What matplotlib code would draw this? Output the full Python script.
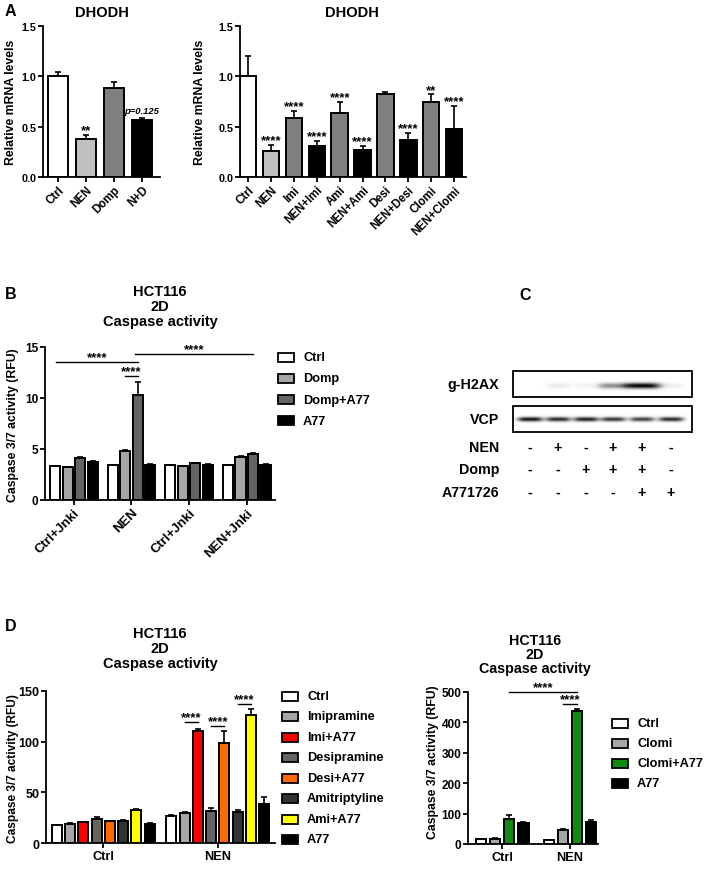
import numpy as np
import matplotlib
matplotlib.use('Agg')
import matplotlib.pyplot as plt
from matplotlib.patches import Rectangle

plt.rcParams['font.family'] = ['Liberation Sans', 'DejaVu Sans']
plt.rcParams['font.weight'] = 'bold'
plt.rcParams['axes.labelweight'] = 'bold'

# ---- data ----
# A left
a1_labels = ['Ctrl', 'NEN', 'Domp', 'N+D']
a1_vals = [1.0, 0.38, 0.88, 0.57]
a1_err = [0.04, 0.04, 0.06, 0.015]
a1_stars = ['', '**', '', '']
# A right
a2_labels = ['Ctrl', 'NEN', 'Imi', 'NEN+Imi', 'Ami', 'NEN+Ami', 'Desi', 'NEN+Desi', 'Clomi', 'NEN+Clomi']
a2_vals = [1.0, 0.26, 0.59, 0.31, 0.64, 0.27, 0.82, 0.37, 0.75, 0.48]
a2_err = [0.2, 0.06, 0.07, 0.045, 0.11, 0.04, 0.02, 0.07, 0.07, 0.23]
a2_stars = ['', '****', '****', '****', '****', '****', '', '****', '**', '****']

# B
b_groups = ['Ctrl+Jnki', 'NEN', 'Ctrl+Jnki', 'NEN+Jnki']
b_series = ['Ctrl', 'Domp', 'Domp+A77', 'A77']
b_vals = [[3.3, 3.4, 3.4, 3.4],
          [3.2, 4.8, 3.3, 4.2],
          [4.05, 10.3, 3.6, 4.45],
          [3.75, 3.45, 3.45, 3.45]]
b_err = [[0.05, 0.05, 0.03, 0.03],
         [0.03, 0.08, 0.03, 0.1],
         [0.15, 1.3, 0.05, 0.1],
         [0.08, 0.03, 0.03, 0.03]]

# C
c_nen = ['-', '+', '-', '+', '+', '-']
c_domp = ['-', '-', '+', '+', '+', '-']
c_a77 = ['-', '-', '-', '-', '+', '+']
h2ax_int = [0.0, 0.08, 0.05, 0.45, 1.0, 0.07]
vcp_int = [0.95, 0.85, 0.9, 0.8, 0.75, 0.85]

# D left
d1_groups = ['Ctrl', 'NEN']
d1_series = ['Ctrl', 'Imipramine', 'Imi+A77', 'Desipramine', 'Desi+A77', 'Amitriptyline', 'Ami+A77', 'A77']
d1_vals = [[17.5, 27], [19, 30], [20.5, 110.5], [23.5, 31.5], [21.5, 98.5], [22, 30.5], [33, 126], [19, 39]]
d1_err = [[0.5, 0.5], [0.5, 1], [0.5, 2], [2.5, 3], [0.5, 12], [0.8, 2.5], [1, 6], [0.5, 6.5]]

# D right
d2_groups = ['Ctrl', 'NEN']
d2_series = ['Ctrl', 'Clomi', 'Clomi+A77', 'A77']
d2_vals = [[16, 13], [18, 45], [82, 438], [70, 74]]
d2_err = [[1, 1], [1, 3], [12, 6], [3, 4]]

W, H = 709, 870
fig = plt.figure(figsize=(W / 100, H / 100), dpi=100)


def ax_px(x0, y0, x1, y1):
    return fig.add_axes([x0 / W, 1 - y1 / H, (x1 - x0) / W, (y1 - y0) / H])


def txt(x, y, s, **kw):
    fig.text(x / W, 1 - y / H, s, **kw)


def style(ax, fs):
    for s in ['top', 'right']:
        ax.spines[s].set_visible(False)
    for s in ['left', 'bottom']:
        ax.spines[s].set_linewidth(1.3)
    ax.tick_params(direction='out', length=3.5, width=1.3, labelsize=fs, pad=1.2)


def bars(ax, xs, vals, err, colors, width):
    ax.bar(xs, vals, width, color=colors, edgecolor='k', linewidth=1.4, zorder=3)
    ax.errorbar(xs, vals, yerr=[np.zeros(len(vals)), err], fmt='none', ecolor='k',
                elinewidth=1.2, capsize=2.5, capthick=1.2, zorder=2)


def stars(ax, x, y, s, fs=9.5, dy=1.2):
    ax.annotate(s, (x, y), xytext=(0, dy), textcoords='offset points',
                ha='center', va='baseline', fontsize=fs, annotation_clip=False)


def sig(ax, x0, x1, y, fs=9.5):
    ax.plot([x0, x1], [y, y], color='k', lw=1.0, clip_on=False)
    stars(ax, (x0 + x1) / 2, y, '****', fs, dy=1.2)


def legend_px(x, y0, dy, labels, colors, fs):
    for i, (lab, c) in enumerate(zip(labels, colors)):
        yc = y0 + i * dy
        fig.patches.append(Rectangle((x / W, 1 - (yc + 4.5) / H), 16 / W, 9 / H,
                                     transform=fig.transFigure, facecolor=c,
                                     edgecolor='k', lw=1.3))
        txt(x + 25, yc, lab, ha='left', va='center', fontsize=fs)


# ---- A left ----
ax = ax_px(43, 27, 160, 178)
a1_colors = ['white', '#c0c0c0', '#7f7f7f', 'black']
x = np.arange(len(a1_vals))
bars(ax, x, a1_vals, a1_err, a1_colors, 0.72)
for i, s in enumerate(a1_stars):
    if s:
        stars(ax, i, a1_vals[i] + a1_err[i], s)
ax.text(3, a1_vals[3] + a1_err[3] + 0.03, 'p=0.125', ha='center', va='bottom',
        fontsize=6.8, style='italic')
ax.set_xlim(-0.55, 3.65)
ax.set_ylim(0, 1.5)
ax.set_yticks([0, 0.5, 1.0, 1.5])
ax.set_yticklabels(['0.0', '0.5', '1.0', '1.5'])
ax.set_xticks(x)
ax.set_xticklabels(a1_labels, rotation=45, ha='right', rotation_mode='anchor')
style(ax, 7.8)
ax.tick_params(axis='x', labelsize=8.3)
txt(102, 13, 'DHODH', ha='center', va='center', fontsize=10.5)
txt(11, 102, 'Relative mRNA levels', rotation=90, ha='center', va='center', fontsize=8.8)
txt(10, 12, 'A', ha='center', va='center', fontsize=11.5)

# ---- A right ----
ax = ax_px(240, 27, 466, 178)
a2_colors = ['white', '#c0c0c0'] + ['#7f7f7f', 'black'] * 4
x = np.arange(len(a2_vals))
bars(ax, x, a2_vals, a2_err, a2_colors, 0.72)
for i, s in enumerate(a2_stars):
    if s:
        stars(ax, i, a2_vals[i] + a2_err[i], s)
ax.set_xlim(-0.36, 9.52)
ax.set_ylim(0, 1.5)
ax.set_yticks([0, 0.5, 1.0, 1.5])
ax.set_yticklabels(['0.0', '0.5', '1.0', '1.5'])
ax.set_xticks(x)
ax.set_xticklabels(a2_labels, rotation=45, ha='right', rotation_mode='anchor')
style(ax, 7.8)
ax.tick_params(axis='x', labelsize=8.3)
txt(352, 13, 'DHODH', ha='center', va='center', fontsize=10.5)
txt(200, 102, 'Relative mRNA levels', rotation=90, ha='center', va='center', fontsize=8.8)

# ---- B ----
ax = ax_px(45, 348, 275, 500.7)
b_colors = ['white', '#a6a6a6', '#646464', 'black']
gx = np.arange(len(b_groups))
for j in range(len(b_series)):
    bars(ax, gx + (j - 1.5) * 0.217, b_vals[j], b_err[j], b_colors[j], 0.175)
sig(ax, -0.31, 1.11, 13.5)
sig(ax, 1.06, 3.1, 14.3)
sig(ax, 0.896, 1.108, 12.15)
ax.set_xlim(-0.5, 3.49)
ax.set_ylim(0, 15)
ax.set_yticks([0, 5, 10, 15])
ax.set_xticks(gx)
ax.set_xticklabels(b_groups, rotation=45, ha='right', rotation_mode='anchor')
style(ax, 8.5)
ax.tick_params(axis='x', labelsize=9.5)
txt(160, 307, 'HCT116\n2D\nCaspase activity', ha='center', va='center', fontsize=10.5,
    linespacing=1.12)
txt(13, 425, 'Caspase 3/7 activity (RFU)', rotation=90, ha='center', va='center', fontsize=8.8)
txt(11, 295, 'B', ha='center', va='center', fontsize=11.5)
legend_px(278, 358, 21.3, b_series, b_colors, 9.2)

# ---- C ----
ax = ax_px(420, 280, 709, 505)
ax.axis('off')
lane_x = [530, 558, 586, 613, 642, 671]
h2ax_w = [24, 24, 24, 30, 36, 24]


def blot(y0, y1, yc, ints, widths, thick):
    xs = np.arange(513, 692, 0.5)
    ys = np.arange(y0, y1, 0.5)
    X, Y = np.meshgrid(xs, ys)
    img = np.zeros_like(X)
    for cx, it, w in zip(lane_x, ints, widths):
        img += it * np.exp(-((X - cx) / (w / 2)) ** 4) * np.exp(-((Y - yc) / thick) ** 2)
    img = np.clip(img, 0, 1)
    ax.imshow(img, extent=(513, 692, y1, y0), cmap='gray_r', vmin=0, vmax=1,
              aspect='auto', interpolation='bilinear')
    ax.add_patch(Rectangle((513, y0), 179, y1 - y0, fill=False, edgecolor='k', lw=1.3))


blot(372, 398, 386.5, h2ax_int, h2ax_w, 2.8)
blot(407, 433, 420, vcp_int, [25] * 6, 2.2)
ax.set_xlim(420, 709)
ax.set_ylim(505, 280)
for lab, yy in [('g-H2AX', 385), ('VCP', 420), ('NEN', 448), ('Domp', 470), ('A771726', 493)]:
    ax.text(499, yy, lab, ha='right', va='center', fontsize=10.3)
for row, yy in [(c_nen, 448), (c_domp, 470), (c_a77, 493)]:
    for lx, s in zip(lane_x, row):
        ax.text(lx, yy, s, ha='center', va='center', fontsize=10.3)
txt(525, 296, 'C', ha='center', va='center', fontsize=11.5)

# ---- D left ----
ax = ax_px(46, 691.7, 275, 844.3)
d1_colors = ['white', '#a6a6a6', '#ff0000', '#646464', '#ff6a00', '#333333', '#ffff00', 'black']
gx = np.arange(len(d1_groups))
sp = 0.1157
for j in range(len(d1_series)):
    bars(ax, gx + (j - 3.5) * sp, d1_vals[j], d1_err[j], d1_colors[j], 0.088)
sig(ax, 1 - 2.5 * sp, 1 - 1.5 * sp, 119)
sig(ax, 1 - 0.5 * sp, 1 + 0.5 * sp, 115)
sig(ax, 1 + 1.5 * sp, 1 + 2.5 * sp, 137)
ax.set_xlim(-0.5, 1.5)
ax.set_ylim(0, 150)
ax.set_yticks([0, 50, 100, 150])
ax.set_xticks(gx)
ax.set_xticklabels(d1_groups)
style(ax, 9)
ax.tick_params(axis='x', labelsize=9.2)
txt(160, 649, 'HCT116\n2D\nCaspase activity', ha='center', va='center', fontsize=10.5,
    linespacing=1.12)
txt(13, 769, 'Caspase 3/7 activity (RFU)', rotation=90, ha='center', va='center', fontsize=8.6)
txt(11, 627, 'D', ha='center', va='center', fontsize=11.5)
legend_px(282, 697, 20.5, d1_series, d1_colors, 9.2)

# ---- D right ----
ax = ax_px(468, 693, 598, 845)
d2_colors = ['white', '#a6a6a6', '#118a11', 'black']
gx = np.arange(len(d2_groups))
sp = 0.209
for j in range(len(d2_series)):
    bars(ax, gx + (j - 1.5) * sp, d2_vals[j], d2_err[j], d2_colors[j], 0.15)
sig(ax, 0.5 * sp, 1 + 0.5 * sp, 500)
sig(ax, 1 - 0.5 * sp, 1 + 0.5 * sp, 460)
ax.set_xlim(-0.51, 1.42)
ax.set_ylim(0, 500)
ax.set_yticks([0, 100, 200, 300, 400, 500])
ax.set_xticks(gx)
ax.set_xticklabels(d2_groups)
style(ax, 8.5)
ax.tick_params(axis='x', labelsize=9.2)
txt(535, 655, 'HCT116\n2D\nCaspase activity', ha='center', va='center', fontsize=10.3,
    linespacing=1.0)
txt(433, 762, 'Caspase 3/7 activity (RFU)', rotation=90, ha='center', va='center', fontsize=8.8)
legend_px(612, 724, 20, d2_series, d2_colors, 9.2)

fig.savefig('out.png', dpi=100)
